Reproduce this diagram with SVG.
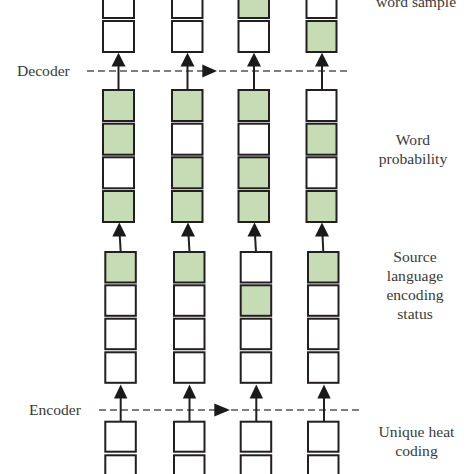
<svg xmlns="http://www.w3.org/2000/svg" width="474" height="474" viewBox="0 0 474 474">
<style>
.b{stroke:#231f20;stroke-width:2;fill:#fff}
.g{stroke:#231f20;stroke-width:2;fill:#c6dcb4}
.ln{stroke:#231f20;stroke-width:2;fill:none}
.hd{fill:#1a1a1a}
.d{stroke:#555;stroke-width:1.3;stroke-dasharray:7,4;fill:none}
text{font-family:"Liberation Serif","DejaVu Serif",serif;font-size:15.6px;fill:#3a3a3a}
.c{text-anchor:middle}
</style>
<rect width="474" height="474" fill="#fff"/>
<g id="labels">
<text class="c" x="416" y="7">word sample</text>
<text x="17" y="75.5">Decoder</text>
<text class="c" x="413" y="145">Word</text>
<text class="c" x="413" y="164">probability</text>
<text class="c" x="415" y="262">Source</text>
<text class="c" x="415" y="281">language</text>
<text class="c" x="415" y="300">encoding</text>
<text class="c" x="415" y="319">status</text>
<text x="29" y="414.5">Encoder</text>
<text class="c" x="416.5" y="437">Unique heat</text>
<text class="c" x="416.5" y="456">coding</text>
</g>
<g id="connectors">
<line class="d" x1="87" y1="71" x2="348" y2="71"/>
<polygon class="hd" points="202.3,64.5 217,71 202.3,77.5"/>
<line class="d" x1="99" y1="410" x2="360" y2="410"/>
<polygon class="hd" points="214.3,403.5 230,410 214.3,416.5"/>
<g>
<line class="ln" x1="118.5" y1="90" x2="118.5" y2="62"/>
<polygon class="hd" points="118.5,52.7 111.5,66.5 125.5,66.5"/>
<line class="ln" x1="187.5" y1="90" x2="187.5" y2="62"/>
<polygon class="hd" points="187.5,52.7 180.5,66.5 194.5,66.5"/>
<line class="ln" x1="254" y1="90" x2="254" y2="62"/>
<polygon class="hd" points="254,52.7 247,66.5 261,66.5"/>
<line class="ln" x1="322" y1="90" x2="322" y2="62"/>
<polygon class="hd" points="322,52.7 315,66.5 329,66.5"/>
</g>
<g>
<line class="ln" x1="120.7" y1="252" x2="119.5" y2="231"/>
<polygon class="hd" points="119.3,222.5 112.3,236.5 126.3,236.5"/>
<line class="ln" x1="189.5" y1="252" x2="188.3" y2="231"/>
<polygon class="hd" points="188,222.5 181,236.5 195,236.5"/>
<line class="ln" x1="256" y1="252" x2="254.8" y2="231"/>
<polygon class="hd" points="254.5,222.5 247.5,236.5 261.5,236.5"/>
<line class="ln" x1="323.3" y1="252" x2="322.3" y2="231"/>
<polygon class="hd" points="322,222.5 315,236.5 329,236.5"/>
</g>
<g>
<line class="ln" x1="120.7" y1="421.7" x2="120.7" y2="394"/>
<polygon class="hd" points="120.7,384.5 114,398.5 127.4,398.5"/>
<line class="ln" x1="189.5" y1="421.7" x2="189.5" y2="394"/>
<polygon class="hd" points="189.5,384.5 182.8,398.5 196.2,398.5"/>
<line class="ln" x1="256.3" y1="421.7" x2="256.3" y2="394"/>
<polygon class="hd" points="256.3,384.5 249.6,398.5 263,398.5"/>
<line class="ln" x1="324" y1="421.7" x2="324" y2="394"/>
<polygon class="hd" points="324,384.5 317.3,398.5 330.7,398.5"/>
</g>
</g>
<g id="word-sample">
<rect class="b" x="103" y="-13" width="31" height="31"/>
<rect class="b" x="172" y="-13" width="30.5" height="31"/>
<rect class="g" x="238.5" y="-13" width="30.5" height="31"/>
<rect class="b" x="306.5" y="-13" width="30" height="31"/>
<rect class="b" x="103" y="21" width="31" height="31"/>
<rect class="b" x="172" y="21" width="30.5" height="31"/>
<rect class="b" x="238.5" y="21" width="30.5" height="31"/>
<rect class="g" x="306.5" y="21" width="30" height="31"/>
</g>
<g id="word-probability">
<rect class="g" x="103" y="90" width="31" height="31"/>
<rect class="g" x="172" y="90" width="30.5" height="31"/>
<rect class="g" x="238.5" y="90" width="30.5" height="31"/>
<rect class="b" x="306.5" y="90" width="30" height="31"/>
<rect class="g" x="103" y="123.7" width="31" height="31"/>
<rect class="b" x="172" y="123.7" width="30.5" height="31"/>
<rect class="b" x="238.5" y="123.7" width="30.5" height="31"/>
<rect class="g" x="306.5" y="123.7" width="30" height="31"/>
<rect class="b" x="103" y="157.3" width="31" height="31"/>
<rect class="g" x="172" y="157.3" width="30.5" height="31"/>
<rect class="g" x="238.5" y="157.3" width="30.5" height="31"/>
<rect class="b" x="306.5" y="157.3" width="30" height="31"/>
<rect class="g" x="103" y="191" width="31" height="31"/>
<rect class="g" x="172" y="191" width="30.5" height="31"/>
<rect class="g" x="238.5" y="191" width="30.5" height="31"/>
<rect class="g" x="306.5" y="191" width="30" height="31"/>
</g>
<g id="source-encoding">
<rect class="g" x="105.3" y="252" width="30.5" height="30.5"/>
<rect class="g" x="174" y="252" width="30.5" height="30.5"/>
<rect class="b" x="240.7" y="252" width="30.5" height="30.5"/>
<rect class="g" x="308" y="252" width="30.5" height="30.5"/>
<rect class="b" x="105.3" y="285.3" width="30.5" height="30.5"/>
<rect class="b" x="174" y="285.3" width="30.5" height="30.5"/>
<rect class="g" x="240.7" y="285.3" width="30.5" height="30.5"/>
<rect class="b" x="308" y="285.3" width="30.5" height="30.5"/>
<rect class="b" x="105.3" y="318.7" width="30.5" height="30.5"/>
<rect class="b" x="174" y="318.7" width="30.5" height="30.5"/>
<rect class="b" x="240.7" y="318.7" width="30.5" height="30.5"/>
<rect class="b" x="308" y="318.7" width="30.5" height="30.5"/>
<rect class="b" x="105.3" y="352.3" width="30.5" height="30.5"/>
<rect class="b" x="174" y="352.3" width="30.5" height="30.5"/>
<rect class="b" x="240.7" y="352.3" width="30.5" height="30.5"/>
<rect class="b" x="308" y="352.3" width="30.5" height="30.5"/>
</g>
<g id="unique-heat-coding">
<rect class="b" x="105.3" y="421.7" width="30.5" height="30"/>
<rect class="b" x="174" y="421.7" width="30.5" height="30"/>
<rect class="b" x="240.7" y="421.7" width="30.5" height="30"/>
<rect class="b" x="308" y="421.7" width="30.5" height="30"/>
<rect class="b" x="105.3" y="455.3" width="30.5" height="30"/>
<rect class="b" x="174" y="455.3" width="30.5" height="30"/>
<rect class="b" x="240.7" y="455.3" width="30.5" height="30"/>
<rect class="b" x="308" y="455.3" width="30.5" height="30"/>
</g>
</svg>
